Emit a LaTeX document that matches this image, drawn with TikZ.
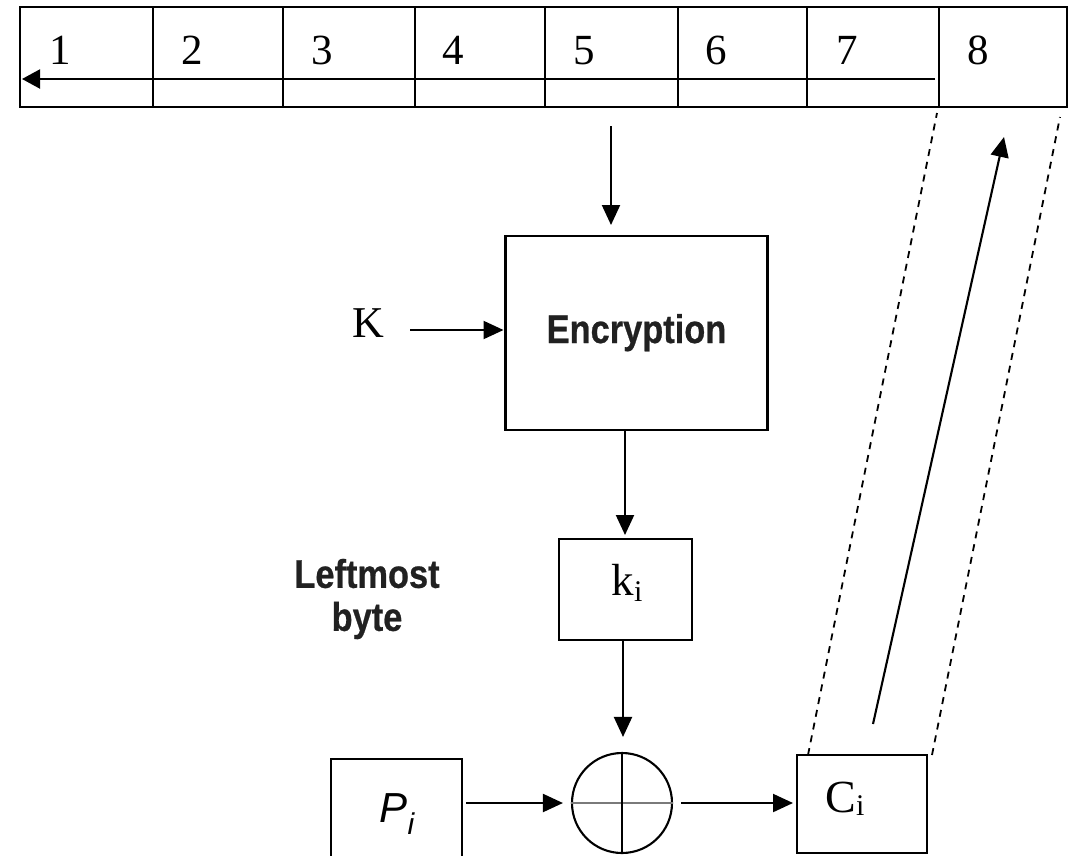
\documentclass[tikz,border=0pt]{standalone}
\usepackage{fontspec}
\setmainfont{Liberation Serif}
\newfontfamily\lblsans[FakeStretch=0.86, BoldFeatures={FakeBold=0.6}]{Liberation Sans}
\newfontfamily\plainsans{Liberation Sans}
\usetikzlibrary{arrows.meta}
\definecolor{txtdark}{HTML}{212121}
\definecolor{crossgray}{HTML}{7a7a7a}
\begin{document}
\begin{tikzpicture}[x=1pt,y=-1pt,
  line width=2.1pt,
  cellbox/.style={draw, minimum width=#1, minimum height=100pt, anchor=north west, inner sep=0pt, outer sep=0pt},
  digit/.style={anchor=base, inner sep=0pt, font=\fontsize{43}{43}\selectfont},
  blk/.style={draw, inner sep=0pt, outer sep=0pt},
  serifbig/.style={anchor=base, inner sep=0pt, font=\fontsize{44}{44}\selectfont},
  boldlbl/.style={inner sep=0pt, text=txtdark, font=\lblsans\bfseries\fontsize{40}{43}\selectfont},
  arr/.style={-{Triangle[length=20pt,width=18pt]}},
  dsh/.style={line width=1.8pt, dash pattern=on 7pt off 6pt}
]
\useasboundingbox (0,0) rectangle (1068,855);
\clip (0,0) rectangle (1068,855);

% register cells
\node[cellbox=133pt] (c1) at (20,7) {};
\node[cellbox=130pt] (c2) at (153,7) {};
\node[cellbox=132pt] (c3) at (283,7) {};
\node[cellbox=130pt] (c4) at (415,7) {};
\node[cellbox=133pt] (c5) at (545,7) {};
\node[cellbox=129pt] (c6) at (678,7) {};
\node[cellbox=132pt] (c7) at (807,7) {};
\node[cellbox=128pt] (c8) at (939,7) {};

\node[digit] (n1) at (60,64) {1};
\node[digit] (n2) at (192,64) {2};
\node[digit] (n3) at (322,64) {3};
\node[digit] (n4) at (453,64) {4};
\node[digit] (n5) at (584,64) {5};
\node[digit] (n6) at (716,64) {6};
\node[digit] (n7) at (847,64) {7};
\node[digit] (n8) at (978,64) {8};

\coordinate (rowR) at (935,79);
\coordinate (rowL) at (c1.west |- rowR);
\draw[-{Triangle[length=18pt,width=19pt]}] (rowR) -- ([xshift=2pt]rowL);

% encryption
\node[blk, minimum width=262pt, minimum height=194pt] (enc) at (636.5,333) {};
\node[boldlbl, anchor=base] (enctxt) at (636.5,343) {Encryption};

\coordinate (tabout) at (611,126);
\draw[arr, shorten >=11pt] (tabout) -- (tabout |- enc.north);

\node[serifbig] (K) at (368,337) {K};
\coordinate (Kout) at (410,330);
\draw[arr, shorten >=2pt] (Kout) -- (Kout -| enc.west);

% k_i
\node[blk, minimum width=133pt, minimum height=101pt] (ki) at (625.5,589.5) {};
\node[anchor=base, inner sep=0pt, font=\fontsize{45}{45}\selectfont] (kitxt) at (627,595) {k\raisebox{-6pt}{\fontsize{30}{30}\selectfont i}};
\coordinate (encout) at (625,430);
\draw[arr, shorten >=4pt] (encout) -- (encout |- ki.north);

% xor
\node[draw, circle, minimum size=100pt, inner sep=0pt] (xor) at (622,803) {};
\draw[crossgray, line width=2.6pt] (xor.west) -- (xor.east);
\draw (xor.north) -- (xor.south);
\coordinate (kiout) at (623,640);
\draw[arr, shorten >=15pt] (kiout) -- (kiout |- xor.north);

% P_i
\node[blk, minimum width=131pt, minimum height=111pt] (P) at (396.5,814.5) {};
\node[anchor=base, inner sep=0pt, font=\plainsans\itshape\fontsize{42}{42}\selectfont] (ptxt) at (397,822) {P\raisebox{-12pt}{\fontsize{30}{30}\selectfont i}};
\draw[arr, shorten <=4pt, shorten >=8pt] (P.east |- xor.west) -- (xor.west);

% C_i
\node[blk, minimum width=130pt, minimum height=98pt] (C) at (862,804) {};
\node[anchor=base, inner sep=0pt, font=\fontsize{46}{46}\selectfont] (ctxt) at (845,812) {C\raisebox{-3pt}{\fontsize{30}{30}\selectfont i}};
\draw[arr, shorten <=8pt, shorten >=4pt] (xor.east) -- (xor.east -| C.west);

% feedback
\draw[dsh] ([xshift=11pt]C.north west) -- ([xshift=-2pt,yshift=-6pt]c8.south west);
\draw[dsh] ([xshift=5pt]C.north east) -- ([xshift=-7pt,yshift=-10pt]c8.south east);
\coordinate (fbstart) at (873,724);
\coordinate (fbend) at (1004,137);
\draw[arr] (fbstart) -- (fbend);

% label
\node[boldlbl, align=center] (lb) at (367,599) {Leftmost\\byte};
\end{tikzpicture}
\end{document}
